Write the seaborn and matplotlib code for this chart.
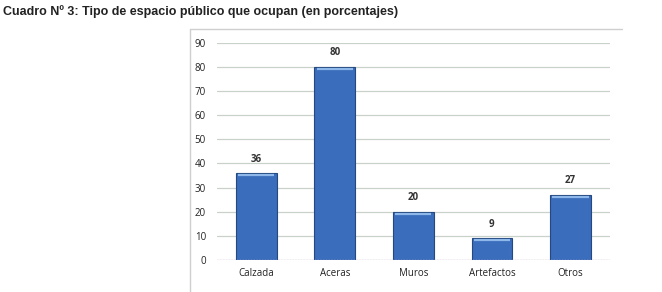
import matplotlib
matplotlib.use("Agg")
import matplotlib.pyplot as plt
import seaborn as sns
import pandas as pd
from matplotlib.lines import Line2D

# data
categorias = ["Calzada", "Aceras", "Muros", "Artefactos", "Otros"]
porcentajes = [36, 80, 20, 9, 27]
yticks = [0, 10, 20, 30, 40, 50, 60, 70, 80, 90]

df = pd.DataFrame({"Categoria": categorias, "Porcentaje": porcentajes})

sns.set_style("white")
plt.rcParams["font.family"] = ["Open Sans", "DejaVu Sans"]

fig = plt.figure(figsize=(6.62, 2.92), dpi=100)
ax = fig.add_axes([0.328, 0.1096, 0.593, 0.744])

sns.barplot(
    data=df,
    x="Categoria",
    y="Porcentaje",
    color="#3a6dbb",
    saturation=1,
    width=0.52,
    edgecolor="#24487f",
    linewidth=0.8,
    ax=ax,
    zorder=3
)

# lighter strip on top of each bar
for p in ax.patches:
    ax.plot([p.get_x() + 0.03, p.get_x() + p.get_width() - 0.03],
            [p.get_height() - 0.8, p.get_height() - 0.8],
            color="#8fb8ea", lw=1.6, zorder=4, solid_capstyle="butt")

for i, v in enumerate(porcentajes):
    ax.text(i, v + 3.5, str(v), ha="center", va="bottom",
            fontsize=7, fontweight="bold", color="#333333")

ax.set_ylim(0, 90)
ax.set_xlim(-0.5, 4.5)
ax.set_yticks(yticks)
ax.yaxis.grid(True, color="#c9d2c9", linewidth=0.9)
ax.set_axisbelow(True)
for s in ax.spines.values():
    s.set_visible(False)
ax.axhline(0, color="#e2b8e6", linewidth=1, linestyle=(0, (1, 1)), zorder=5)
ax.tick_params(axis="both", length=0, labelsize=7, colors="#222222")
ax.tick_params(axis="y", pad=8)
ax.tick_params(axis="x", pad=6)
ax.set_xlabel("")
ax.set_ylabel("")

# chart frame (top and left)
fig.add_artist(Line2D([190 / 662, 622 / 662], [1 - 29 / 292, 1 - 29 / 292],
                      color="#cfcfcf", lw=1, transform=fig.transFigure))
fig.add_artist(Line2D([190 / 662, 190 / 662], [0, 1 - 29 / 292],
                      color="#cfcfcf", lw=1, transform=fig.transFigure))

fig.text(0.005, 1 - 12 / 292, "Cuadro Nº 3: Tipo de espacio público que ocupan (en porcentajes)",
         fontsize=9, fontweight="bold", family=["Liberation Sans", "DejaVu Sans"],
         va="center", ha="left", color="#222222")

fig.savefig("out.png", dpi=100)
